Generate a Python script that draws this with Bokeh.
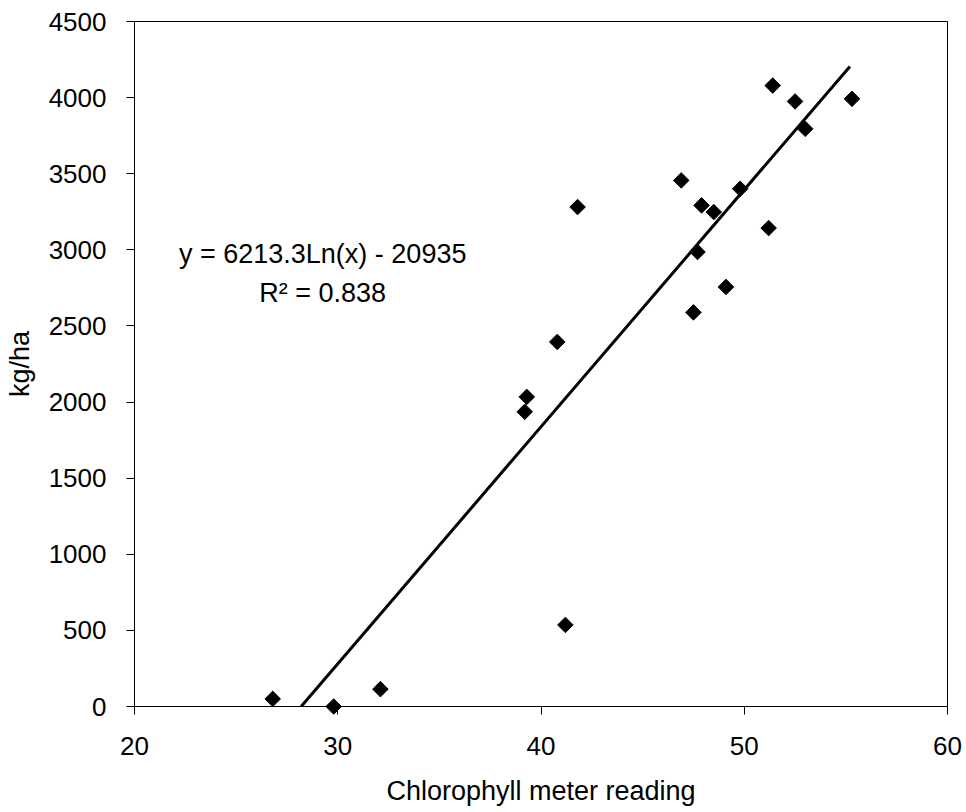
import math
from bokeh.plotting import figure
from bokeh.models import Range1d, FixedTicker, Label
from bokeh.embed import file_html
from bokeh.resources import INLINE

# Data
chlorophyll = [26.8, 29.8, 32.1, 39.2, 39.3, 40.8, 41.2, 41.8, 46.9, 47.5,
               47.7, 47.9, 48.5, 49.1, 49.8, 51.2, 51.4, 52.5, 53.0, 55.3]
yield_kg_ha = [50, 0, 114, 1936, 2034, 2395, 536, 3281, 3456, 2589,
               2986, 3292, 3248, 2756, 3401, 3143, 4079, 3975, 3795, 3992]

trend_x = [28.2, 55.2]
trend_y = [0, 4205]

x_ticks = [20, 30, 40, 50, 60]
y_ticks = [0, 500, 1000, 1500, 2000, 2500, 3000, 3500, 4000, 4500]

equation_text = "y = 6213.3Ln(x) - 20935"
r2_text = "R\u00b2 = 0.838"

FONT = "Liberation Sans"

p = figure(width=962, height=808, output_backend="svg", toolbar_location=None,
           x_range=Range1d(20, 60), y_range=Range1d(0, 4500),
           min_border_left=134, min_border_right=15, min_border_top=21,
           min_border_bottom=101)

p.background_fill_color = "white"
p.border_fill_color = "white"
p.outline_line_color = "black"
p.outline_line_width = 1
p.xgrid.visible = False
p.ygrid.visible = False

p.xaxis.ticker = FixedTicker(ticks=x_ticks)
p.yaxis.ticker = FixedTicker(ticks=y_ticks)
for ax in (p.xaxis[0], p.yaxis[0]):
    ax.axis_line_color = "black"
    ax.major_tick_line_color = "black"
    ax.major_tick_in = 0
    ax.major_tick_out = 8
    ax.minor_tick_line_color = None
    ax.major_label_text_font = FONT
    ax.major_label_text_font_size = "26px"
    ax.major_label_text_color = "black"
    ax.axis_label_text_font = FONT
    ax.axis_label_text_font_size = "27px"
    ax.axis_label_text_font_style = "normal"
    ax.axis_label_text_color = "black"

p.xaxis.axis_label = "Chlorophyll meter reading"
p.yaxis.axis_label = "kg/ha"
p.xaxis.major_label_standoff = 22
p.yaxis.major_label_standoff = 20
p.xaxis.axis_label_standoff = 18
p.yaxis.axis_label_standoff = 11

p.line(trend_x, trend_y, line_color="black", line_width=3)
p.scatter(chlorophyll, yield_kg_ha, marker="square", angle=math.pi / 4,
          size=11, fill_color="black", line_color="black", level="overlay")

p.add_layout(Label(x=29.26, y=2974, text=equation_text, text_align="center",
                   text_baseline="alphabetic", text_font=FONT,
                   text_font_size="27px", text_color="black"))
p.add_layout(Label(x=29.26, y=2716, text=r2_text, text_align="center",
                   text_baseline="alphabetic", text_font=FONT,
                   text_font_size="27px", text_color="black"))

open("out.html", "w").write(file_html(p, INLINE))
